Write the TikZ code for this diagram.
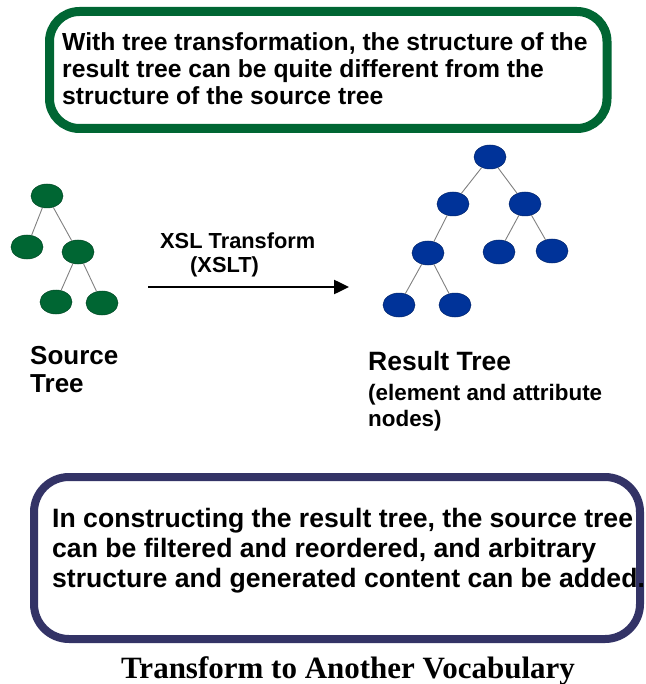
\documentclass[tikz,border=0pt]{standalone}
\usepackage{fontspec}
\setmainfont{Liberation Sans}
\newfontfamily\capfont{Liberation Serif}
\usetikzlibrary{shapes.geometric,arrows.meta}
\definecolor{boxgreen}{RGB}{0,102,51}
\definecolor{boxblue}{RGB}{51,51,102}
\definecolor{nodegreen}{RGB}{0,102,51}
\definecolor{nodeblue}{RGB}{0,51,153}
\tikzset{
  gnode/.style={ellipse,fill=nodegreen,draw=nodegreen!70!black,line width=0.5pt,minimum width=32pt,minimum height=24pt,inner sep=0pt},
  bnode/.style={ellipse,fill=nodeblue,draw=nodeblue!70!black,line width=0.5pt,minimum width=32pt,minimum height=24pt,inner sep=0pt},
  edge/.style={draw=gray,line width=0.9pt},
  txt/.style={inner sep=0pt,align=left,font=\bfseries},
}
\begin{document}
\begin{tikzpicture}[x=1pt,y=-1pt]
\useasboundingbox (0,0) rectangle (645,684);
% top box
\draw[boxgreen,line width=9pt,rounded corners=30pt] (49.5,11.5) rectangle (607,128.5);
\node[txt,anchor=north west,font=\bfseries\fontsize{24.7}{27}\selectfont] (toptext) at (62,32)
 {With tree transformation, the structure of the\\result tree can be quite different from the\\structure of the source tree};
% source tree
\node[gnode] (s0) at (47,196) {};
\node[gnode] (s1) at (27,247) {};
\node[gnode] (s2) at (78,252) {};
\node[gnode] (s3) at (56,302) {};
\node[gnode] (s4) at (102,303) {};
\draw[edge] (s0) -- (s1);
\draw[edge] (s0) -- (s2);
\draw[edge] (s2) -- (s3);
\draw[edge] (s2) -- (s4);
% result tree
\node[bnode] (r0) at (490,157) {};
\node[bnode] (r1) at (453,204) {};
\node[bnode] (r2) at (525,204) {};
\node[bnode] (r3) at (428,253) {};
\node[bnode] (r4) at (499,252) {};
\node[bnode] (r5) at (552,251) {};
\node[bnode] (r6) at (399,305) {};
\node[bnode] (r7) at (455,305) {};
\draw[edge] (r0) -- (r1);
\draw[edge] (r0) -- (r2);
\draw[edge] (r1) -- (r3);
\draw[edge] (r2) -- (r4);
\draw[edge] (r2) -- (r5);
\draw[edge] (r3) -- (r6);
\draw[edge] (r3) -- (r7);
% arrow
\coordinate (a0) at (148,287);
\coordinate (a1) at (349,287);
\draw[line width=2.5pt,-{Triangle[length=15pt,width=14pt]}] (a0) -- (a1);
\node[txt,anchor=base west,font=\bfseries\fontsize{21.8}{24}\selectfont] (xsl) at (160,248) {XSL Transform};
\node[txt,anchor=base west,font=\bfseries\fontsize{21.8}{24}\selectfont] (xslt) at (190,272) {(XSLT)};
% labels
\node[txt,anchor=base west,font=\bfseries\fontsize{26}{30}\selectfont] (src) at (30,364) {Source};
\node[txt,anchor=base west,font=\bfseries\fontsize{26}{30}\selectfont] (src2) at (30,392) {Tree};
\node[txt,anchor=base west,font=\bfseries\fontsize{26.5}{30}\selectfont] (res) at (368,370) {Result Tree};
\node[txt,anchor=base west,font=\bfseries\fontsize{22.4}{26}\selectfont] (res2) at (368,400) {(element and attribute};
\node[txt,anchor=base west,font=\bfseries\fontsize{22.4}{26}\selectfont] (res3) at (368,426) {nodes)};
% bottom box
\draw[boxblue,line width=8pt,rounded corners=35pt] (34,477) rectangle (640,639);
\node[txt,anchor=north west,font=\bfseries\fontsize{26.6}{30}\selectfont] (bottext) at (52,508)
 {In constructing the result tree, the source tree\\can be filtered and reordered, and arbitrary\\structure and generated content can be added.};
% caption
\node[inner sep=0pt,anchor=base,font=\capfont\bfseries\fontsize{31}{34}\selectfont] (cap) at (348,678) {Transform to Another Vocabulary};
\end{tikzpicture}
\end{document}
